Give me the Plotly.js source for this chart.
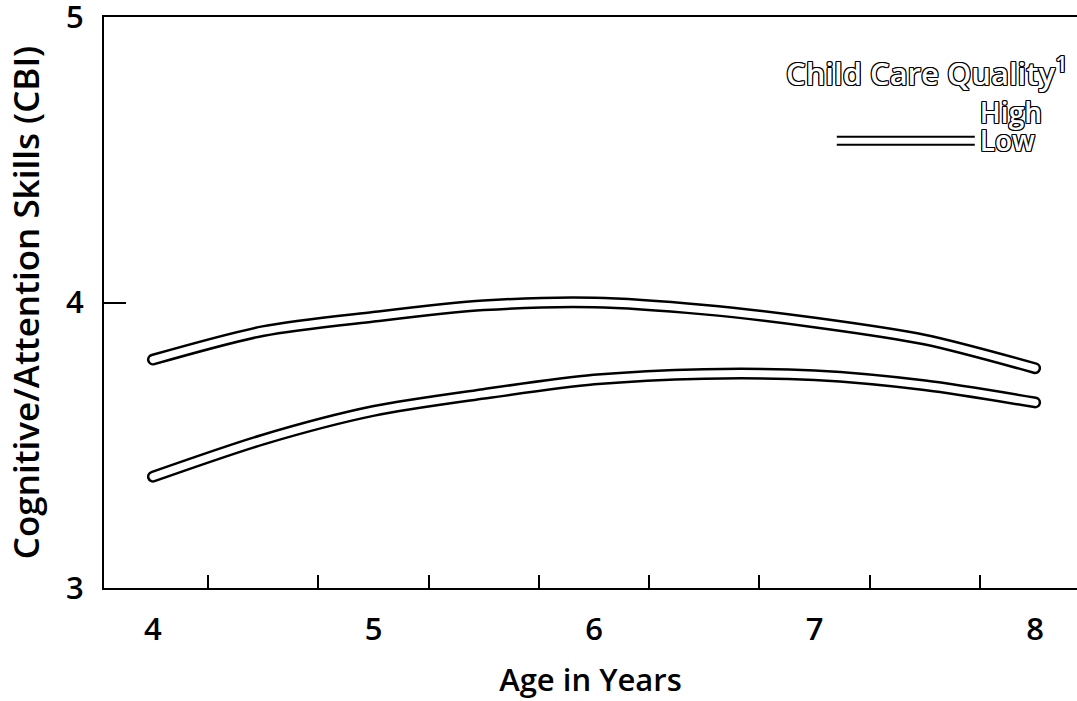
<!DOCTYPE html>
<html>
<head>
<meta charset="utf-8">
<script src="https://cdn.plot.ly/plotly-3.0.1.min.js"></script>
<style>
html,body{margin:0;padding:0;background:#fff;}
#chart{width:1077px;height:701px;}
.scatterlayer .js-line{stroke-linecap:round;}
</style>
</head>
<body>
<div id="chart"></div>
<script>
// Data
const ages = [4, 4.5, 5, 5.5, 6, 6.5, 7, 7.5, 8];
const highQuality = [3.80, 3.90, 3.95, 3.99, 4.00, 3.975, 3.93, 3.87, 3.77];
const lowQuality = [3.39, 3.52, 3.62, 3.68, 3.73, 3.75, 3.745, 3.71, 3.65];
const xLabelTicks = [4, 5, 6, 7, 8];
const xMinorTicks = [4.25, 4.75, 5.25, 5.75, 6.25, 6.75, 7.25, 7.75];
const yTicks = [3, 4, 5];
const seriesNames = ['High', 'Low'];
const legendTitle = 'Child Care Quality<sup>1</sup>';

const FONT = '"Open Sans", "DejaVu Sans", sans-serif';
const outline = '1px 1px 0 #000, -1px -1px 0 #000, 1px -1px 0 #000, -1px 1px 0 #000, 1px 0 0 #000, -1px 0 0 #000, 0 1px 0 #000, 0 -1px 0 #000';
const hollowFont = {family: FONT, size: 28, weight: 600, color: '#ffffff', shadow: outline};
const plainFont = {family: FONT, size: 28, weight: 600, color: '#000'};

const OUTER = 12, INNER = 7;
const base = {type: 'scatter', mode: 'lines', x: ages, hoverinfo: 'skip', showlegend: false};
const spline = (c, w) => ({color: c, width: w, shape: 'spline', smoothing: 0.8});

// legend-only entries (no data points)
const legendEntry = (name, legend, color) => ({
  type: 'scatter', mode: 'lines', x: [null], y: [null], name: name,
  showlegend: true, legend: legend, hoverinfo: 'skip',
  line: {color: color, width: 2}
});

const traces = [
  Object.assign({}, base, {y: highQuality, name: seriesNames[0], line: spline('#000', OUTER)}),
  Object.assign({}, base, {y: lowQuality, name: seriesNames[1], line: spline('#000', OUTER)}),
  Object.assign({}, base, {y: highQuality, name: seriesNames[0], line: spline('#fff', INNER)}),
  Object.assign({}, base, {y: lowQuality, name: seriesNames[1], line: spline('#fff', INNER)}),
  legendEntry(seriesNames[0], 'legend', '#fff'),
  legendEntry(seriesNames[1], 'legend2', '#fff'),
  legendEntry('\u00a0', 'legend3', '#000'),
  legendEntry('\u00a0', 'legend4', '#000'),
  // invisible trace carrying the minor tick axis
  {type: 'scatter', mode: 'lines', x: [], y: [], xaxis: 'x2', yaxis: 'y', showlegend: false, hoverinfo: 'skip'}
];

const legendBase = (y, font) => ({
  x: 0.748, xanchor: 'left', y: y, yanchor: 'middle',
  bgcolor: 'rgba(0,0,0,0)', borderwidth: 0, itemwidth: 138, font: font
});

const layout = {
  width: 1077, height: 701,
  margin: {l: 104, r: 0, t: 17, b: 113},
  paper_bgcolor: '#fff', plot_bgcolor: '#fff',
  font: {family: FONT, color: '#000'},
  showlegend: true,
  xaxis: {
    range: [3.778, 8.19], showgrid: false, zeroline: false,
    showline: true, linecolor: '#000', linewidth: 2, mirror: true,
    tickvals: xLabelTicks, ticks: '', ticklabelstandoff: 13,
    tickfont: {family: FONT, size: 31, weight: 600, color: '#000'},
    title: {text: 'Age in Years', font: {family: FONT, size: 31, weight: 600, color: '#000'}, standoff: 21}
  },
  xaxis2: {
    overlaying: 'x', anchor: 'y', side: 'bottom', matches: 'x',
    range: [3.778, 8.19], showgrid: false, zeroline: false, showline: false,
    tickvals: xMinorTicks, ticks: 'inside', ticklen: 13, tickwidth: 2, tickcolor: '#000',
    showticklabels: false
  },
  yaxis: {
    range: [3, 5], showgrid: false, zeroline: false,
    showline: true, linecolor: '#000', linewidth: 2,
    tickvals: yTicks, ticks: 'inside', ticklen: 22, tickwidth: 2, tickcolor: '#000',
    ticklabelstandoff: 12, ticklabeloverflow: 'allow',
    tickfont: {family: FONT, size: 31, weight: 600, color: '#000'},
    title: {text: 'Cognitive/Attention Skills (CBI)', font: {family: FONT, size: 35, weight: 600, color: '#000'}, standoff: 16}
  },
  legend: legendBase(0.8336, hollowFont),
  legend2: legendBase(0.7840, hollowFont),
  legend3: legendBase(0.7898, plainFont),
  legend4: legendBase(0.7758, plainFont),
  annotations: [{
    xref: 'paper', yref: 'paper', x: 0.993, y: 0.904, xanchor: 'right', yanchor: 'middle',
    text: legendTitle, showarrow: false,
    font: {family: FONT, size: 31, weight: 600, color: '#ffffff', shadow: outline}
  }]
};

Plotly.newPlot('chart', traces, layout, {displayModeBar: false, staticPlot: true});
</script>
</body>
</html>
